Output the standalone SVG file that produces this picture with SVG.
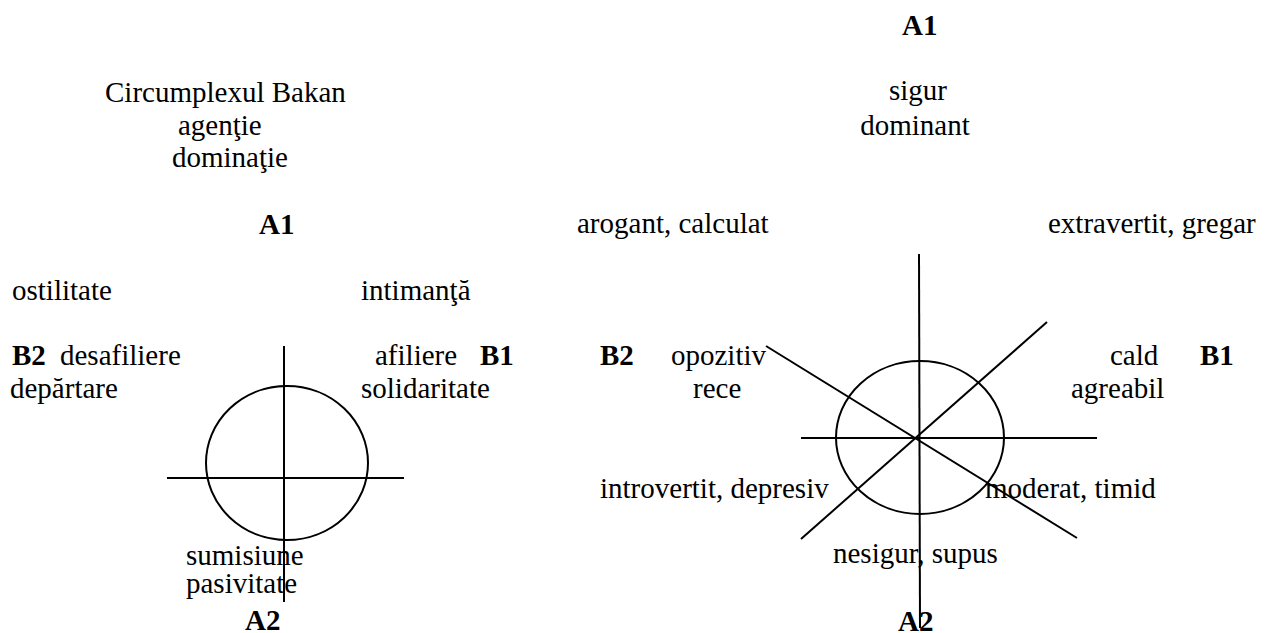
<svg xmlns="http://www.w3.org/2000/svg" width="1270" height="633" viewBox="0 0 1270 633">
<style>
text{font-family:"Liberation Serif","Times New Roman",serif;font-size:29px;fill:#000}
.b{font-weight:bold}
.m{text-anchor:middle}
.ln{stroke:#000;stroke-width:2;fill:none}
</style>
<rect width="1270" height="633" fill="#fff"/>
<g id="left-labels">
<text x="105" y="102">Circumplexul Bakan</text>
<text x="178" y="135">agenţie</text>
<text x="172" y="167">dominaţie</text>
<text class="b" x="259" y="234">A1</text>
<text x="12" y="300">ostilitate</text>
<text x="361" y="300">intimanţă</text>
<text class="b" x="12" y="365">B2</text>
<text x="60" y="365">desafiliere</text>
<text x="10" y="398">depărtare</text>
<text x="375" y="365">afiliere</text>
<text class="b" x="480" y="365">B1</text>
<text x="361" y="398">solidaritate</text>
<text x="186" y="565">sumisiune</text>
<text x="186" y="593">pasivitate</text>
<text class="b" x="245" y="630">A2</text>
</g>
<g id="left-diagram">
<ellipse class="ln" cx="287" cy="463" rx="81" ry="77"/>
<line class="ln" x1="167" y1="478" x2="404" y2="478"/>
<line class="ln" x1="284" y1="346" x2="284" y2="602"/>
</g>
<g id="right-labels">
<text class="b" x="902" y="35">A1</text>
<text class="m" x="918" y="100">sigur</text>
<text class="m" x="915" y="135">dominant</text>
<text x="577" y="233">arogant, calculat</text>
<text x="1048" y="233">extravertit, gregar</text>
<text class="b" x="600" y="365">B2</text>
<text x="671" y="365">opozitiv</text>
<text x="693" y="398">rece</text>
<text x="1110" y="365">cald</text>
<text class="b" x="1200" y="365">B1</text>
<text x="1071" y="398">agreabil</text>
<text x="600" y="498">introvertit, depresiv</text>
<text x="985" y="498">moderat, timid</text>
<text x="833" y="563">nesigur, supus</text>
<text class="b" x="898" y="631">A2</text>
</g>
<g id="right-diagram">
<ellipse class="ln" cx="920" cy="437.5" rx="84" ry="76.5"/>
<line class="ln" x1="801" y1="438" x2="1097" y2="438"/>
<line class="ln" x1="919" y1="254" x2="920" y2="628"/>
<line class="ln" x1="766" y1="346" x2="1077" y2="538"/>
<line class="ln" x1="1047" y1="322" x2="801" y2="539"/>
</g>
</svg>
